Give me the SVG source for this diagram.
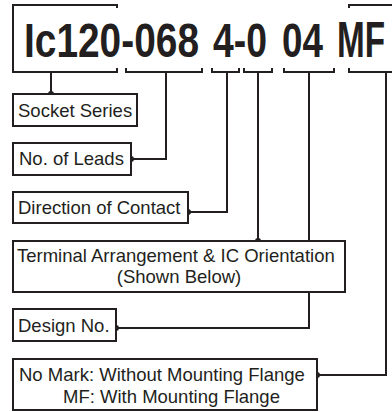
<svg xmlns="http://www.w3.org/2000/svg" width="392" height="412" viewBox="0 0 392 412">
<style>
.ln{fill:none;stroke:#231f20;stroke-width:2}
.box{fill:#fff;stroke:#231f20;stroke-width:2}
.t{font-family:"Liberation Sans",Arial,sans-serif;font-size:18.5px;fill:#231f20}
.big{font-family:"Liberation Sans",Arial,sans-serif;font-size:49px;font-weight:bold;fill:#231f20}
.dot{fill:#231f20}
</style>
<rect width="392" height="412" fill="#fff"/>
<g id="code">
<text class="big" transform="translate(24,57) scale(0.793,1)">Ic120-068</text>
<text class="big" transform="translate(213,57) scale(0.763,1)">4-0</text>
<text class="big" transform="translate(282,57) scale(0.752,1)">04</text>
<text class="big" transform="translate(337,57) scale(0.68,1)">MF</text>
</g>
<g id="brackets">
<path class="ln" d="M117,8 V5 H13 V72 H117 V68"/>
<path class="ln" d="M126,68 V72 H202 V68"/>
<path class="ln" d="M212,68 V72 H239 V68"/>
<path class="ln" d="M244,68 V72 H272 V68"/>
<path class="ln" d="M284,68 V72 H334 V68"/>
<path class="ln" d="M349,68 V72 H393"/>
<path class="ln" d="M349,8 V5 H393"/>
</g>
<g id="connectors">
<path class="ln" d="M51,72 V94"/>
<path class="ln" d="M131,159 H166 V72"/>
<path class="ln" d="M188,212 H227 V72"/>
<path class="ln" d="M258,241 V72"/>
<path class="ln" d="M116,328 H309 V72"/>
<path class="ln" d="M317,375 H386 V72"/>
<circle class="dot" cx="51" cy="94" r="3"/>
<circle class="dot" cx="131" cy="159" r="3"/>
<circle class="dot" cx="188" cy="212" r="3"/>
<circle class="dot" cx="258" cy="241" r="3"/>
<circle class="dot" cx="116" cy="328" r="3"/>
<circle class="dot" cx="317" cy="375" r="3"/>
</g>
<g id="socket-series">
<rect class="box" x="13" y="94" width="124" height="32"/>
<text class="t" x="18" y="117">Socket Series</text>
</g>
<g id="no-of-leads">
<rect class="box" x="13" y="143" width="118" height="32"/>
<text class="t" x="19" y="165">No. of Leads</text>
</g>
<g id="direction">
<rect class="box" x="13" y="192" width="175" height="31"/>
<text class="t" x="18" y="214">Direction of Contact</text>
</g>
<g id="terminal">
<rect class="box" x="13" y="241" width="332" height="51"/>
<text class="t" x="17" y="262">Terminal Arrangement &amp; IC Orientation</text>
<text class="t" x="179" y="283" text-anchor="middle">(Shown Below)</text>
</g>
<g id="design-no">
<rect class="box" x="13" y="309" width="103" height="32"/>
<text class="t" x="18" y="332">Design No.</text>
</g>
<g id="flange">
<rect class="box" x="13" y="359" width="304" height="51"/>
<text class="t" x="19" y="381">No Mark: Without Mounting Flange</text>
<text class="t" x="63" y="403">MF: With Mounting Flange</text>
</g>
</svg>
